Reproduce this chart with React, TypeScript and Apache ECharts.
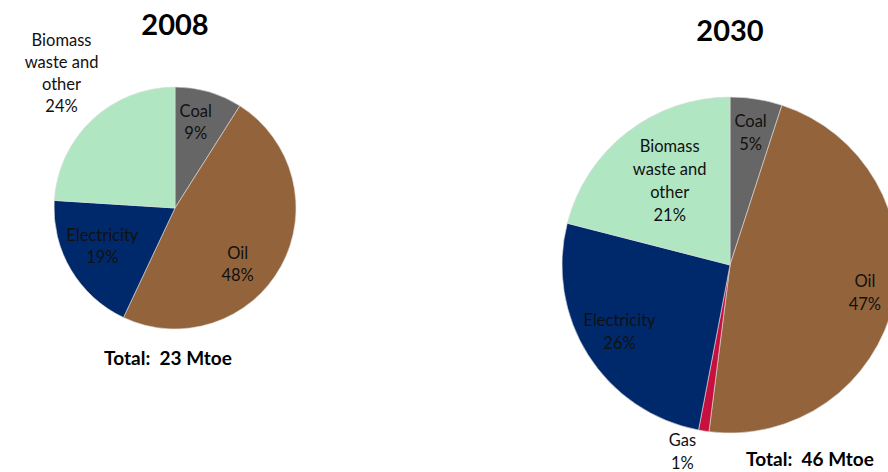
import React, { useEffect, useRef } from "react";
import * as echarts from "echarts";

const categories2008 = ["Coal", "Oil", "Electricity", "Biomass\nwaste and\nother"];
const values2008 = [9, 48, 19, 24];
const categories2030 = ["Coal", "Oil", "Gas", "Electricity", "Biomass\nwaste and\nother"];
const values2030 = [5, 47, 1, 26, 21];
const titles = ["2008", "2030"];
const totals = ["Total:  23 Mtoe", "Total:  46 Mtoe"];

const colorMap: Record<string, string> = {
  Coal: "#666666",
  Oil: "#93643C",
  Gas: "#C8103E",
  Electricity: "#00296B",
  Biomass: "#B0E6C2",
};

const offsets2008: number[][] = [[3, -25], [7, 25], [-18, 6], [-70, -89]];
const offsets2030: number[][] = [[7, -47], [50, 9], [-34, 101], [-37, 20], [-7, -16]];

const FONT = "Lato, 'Open Sans', sans-serif";

function buildData(cats: string[], vals: number[], offs: number[][], lh: number) {
  return cats.map((c, i) => ({
    name: c,
    value: vals[i],
    itemStyle: { color: colorMap[c.split("\n")[0]] },
    label: { offset: offs[i], lineHeight: lh },
  }));
}

export default function App() {
  const ref = useRef<HTMLDivElement>(null);
  useEffect(() => {
    if (!ref.current) return;
    const chart = echarts.init(ref.current, undefined, { renderer: "svg" });
    const labelBase = {
      show: true,
      position: "inside" as const,
      formatter: (p: any) => `${p.name}\n${p.value}%`,
      color: "#111",
      fontSize: 16.5,
      fontFamily: FONT,
    };
    chart.setOption({
      animation: false,
      backgroundColor: "#ffffff",
      graphic: [
        { type: "text", x: 175, y: 23, style: { text: titles[0], fontSize: 29, fontWeight: "bold", fontFamily: FONT, fill: "#000", textAlign: "center", textVerticalAlign: "middle" } },
        { type: "text", x: 730, y: 29, style: { text: titles[1], fontSize: 29, fontWeight: "bold", fontFamily: FONT, fill: "#000", textAlign: "center", textVerticalAlign: "middle" } },
        { type: "text", x: 168, y: 357, style: { text: totals[0], fontSize: 19, fontWeight: "bold", fontFamily: FONT, fill: "#000", textAlign: "center", textVerticalAlign: "middle" } },
        { type: "text", x: 810, y: 458, style: { text: totals[1], fontSize: 19, fontWeight: "bold", fontFamily: FONT, fill: "#000", textAlign: "center", textVerticalAlign: "middle" } },
      ],
      series: [
        {
          type: "pie",
          center: [175, 208],
          radius: 121,
          startAngle: 90,
          clockwise: true,
          avoidLabelOverlap: false,
          itemStyle: { borderColor: "#dddddd", borderWidth: 0.6 },
          label: labelBase,
          labelLine: { show: false },
          emphasis: { disabled: true },
          data: buildData(categories2008, values2008, offsets2008, 22),
        },
        {
          type: "pie",
          center: [730, 265],
          radius: 168,
          startAngle: 90,
          clockwise: true,
          avoidLabelOverlap: false,
          itemStyle: { borderColor: "#dddddd", borderWidth: 0.6 },
          label: labelBase,
          labelLine: { show: false },
          emphasis: { disabled: true },
          data: buildData(categories2030, values2030, offsets2030, 23),
        },
      ],
    });
    return () => chart.dispose();
  }, []);
  return <div ref={ref} style={{ position: "fixed", left: 0, top: 0, width: 888, height: 472 }} />;
}
